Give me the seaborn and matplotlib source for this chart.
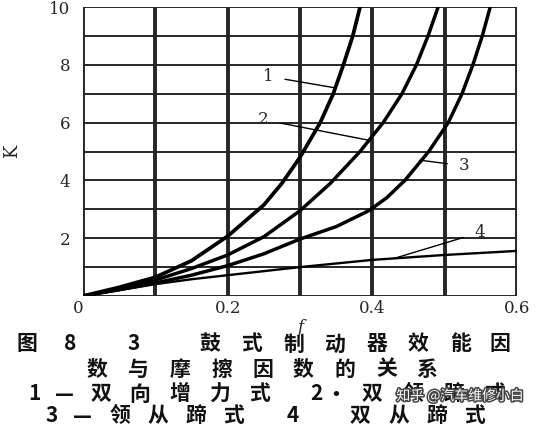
import numpy as np
import pandas as pd
import matplotlib.pyplot as plt
import matplotlib.patheffects as pe
import seaborn as sns

# curve data (f = friction coefficient, K = efficiency factor)
f1 = [0, 0.05, 0.1, 0.15, 0.2, 0.25, 0.275, 0.3, 0.328, 0.346, 0.36, 0.373, 0.383]
k1 = [0, 0.3, 0.65, 1.22, 2.07, 3.15, 3.9, 4.8, 6.0, 7.0, 8.0, 9.0, 10.0]
f2 = [0, 0.05, 0.1, 0.15, 0.2, 0.25, 0.3, 0.342, 0.383, 0.415, 0.441, 0.461, 0.477, 0.491]
k2 = [0, 0.25, 0.55, 0.95, 1.42, 2.05, 2.95, 3.9, 5.0, 6.0, 7.0, 8.0, 9.0, 10.0]
f3 = [0, 0.05, 0.1, 0.15, 0.2, 0.25, 0.3, 0.35, 0.395, 0.42, 0.445, 0.478, 0.505,
      0.524, 0.539, 0.552, 0.563]
k3 = [0, 0.22, 0.45, 0.72, 1.05, 1.46, 1.97, 2.4, 2.95, 3.4, 4.0, 5.0, 6.0,
      7.0, 8.0, 9.0, 10.0]
f4 = [0, 0.05, 0.1, 0.15, 0.2, 0.3, 0.4, 0.5, 0.6]
k4 = [0, 0.2, 0.41, 0.58, 0.72, 1.0, 1.25, 1.42, 1.56]

x_ticks = [0, 0.2, 0.4, 0.6]
x_tick_labels = ["0", "0.2", "0.4", "0.6"]
y_ticks = [0, 2, 4, 6, 8, 10]
y_tick_labels = ["", "2", "4", "6", "8", "10"]

# caption lines, one entry per glyph group (scan spaces them widely)
cap1 = ["图", "8", "3", "鼓", "式", "制", "动", "器", "效", "能", "因"]
cap2 = ["数", "与", "摩", "擦", "因", "数", "的", "关", "系"]
cap3 = ["1", "—", "双", "向", "增", "力", "式", "2", "·", "双", "领", "蹄", "式"]
cap4 = ["3", "—", "领", "从", "蹄", "式", "4", "双", "从", "蹄", "式"]

# glyph centres in pixels (x) and line centre (y)
cap1_x = [27, 70, 134, 210, 252, 294, 335, 377, 418, 460, 500]
cap2_x = [97, 138, 180, 222, 263, 303, 345, 387, 427]
cap3_x = [34, 64, 101, 140, 180, 220, 260, 316, 336, 372, 413, 454, 495]
cap4_x = [52, 82, 120, 158, 196, 234, 293, 360, 399, 437, 475]

sns.set_style("white")
plt.rcParams['font.family'] = ['Noto Sans CJK SC', 'DejaVu Sans']

W, H = 537, 428
fig = plt.figure(figsize=(W / 100, H / 100), dpi=100)
ax = fig.add_axes([83 / W, 1 - 296 / H, 434 / W, 289 / H])

# grid: heavy verticals, thin horizontals (scanned look)
for gx in np.arange(0, 0.61, 0.1):
    ax.axvline(gx, color="#262626", lw=2.8, zorder=1)
for gy in np.arange(0, 10.1, 1):
    ax.axhline(gy, color="#262626", lw=1.4, zorder=1)

curves = [(f1, k1, 2.7), (f2, k2, 2.5), (f3, k3, 2.5), (f4, k4, 1.7)]
for fx, ky, w in curves:
    df = pd.DataFrame({"f": fx, "K": ky})
    sns.lineplot(data=df, x="f", y="K", ax=ax, color="black", lw=w,
                 sort=False, zorder=3)

# curve labels with leader lines
lab_kw = dict(fontsize=12, family="DejaVu Serif", ha="center", va="center")
arr = dict(arrowstyle="-", lw=1.0, color="black", shrinkA=6, shrinkB=0)
ax.annotate("1", xy=(0.349, 7.2), xytext=(0.256, 7.6), arrowprops=arr, **lab_kw)
ax.annotate("2", xy=(0.393, 5.4), xytext=(0.249, 6.1), arrowprops=arr, **lab_kw)
ax.annotate("3", xy=(0.466, 4.7), xytext=(0.527, 4.5), arrowprops=arr, **lab_kw)
ax.annotate("4", xy=(0.43, 1.3), xytext=(0.549, 2.2), arrowprops=arr, **lab_kw)

ax.set_xlim(0, 0.6)
ax.set_ylim(0, 10)
ax.set_xticks(x_ticks)
ax.set_xticklabels(x_tick_labels, fontsize=12, family="DejaVu Serif")
ax.get_xticklabels()[0].set_ha("right")
ax.set_yticks(y_ticks)
ax.set_yticklabels(y_tick_labels, fontsize=12, family="DejaVu Serif")
ax.tick_params(axis="x", length=0, pad=3)
ax.tick_params(axis="y", length=0, pad=9)
ax.set_xlabel("f", fontsize=12, style="italic", family="DejaVu Serif", labelpad=1)
ax.set_ylabel("K", fontsize=13, family="DejaVu Serif", labelpad=20)
for s in ax.spines.values():
    s.set_visible(False)

for glyphs, xs, y in [(cap1, cap1_x, 344), (cap2, cap2_x, 369),
                      (cap3, cap3_x, 394), (cap4, cap4_x, 416)]:
    for g, x in zip(glyphs, xs):
        fig.text(x / W, 1 - y / H, g, ha="center", va="center", fontsize=15,
                 fontweight="bold", color="#111111")

fig.text(460 / W, 1 - 396 / H, "知乎 @汽车维修小白", ha="center", va="center",
         fontsize=10, color="white", zorder=5,
         path_effects=[pe.withStroke(linewidth=2.2, foreground="#444444")])

fig.savefig("out.png", dpi=100)
